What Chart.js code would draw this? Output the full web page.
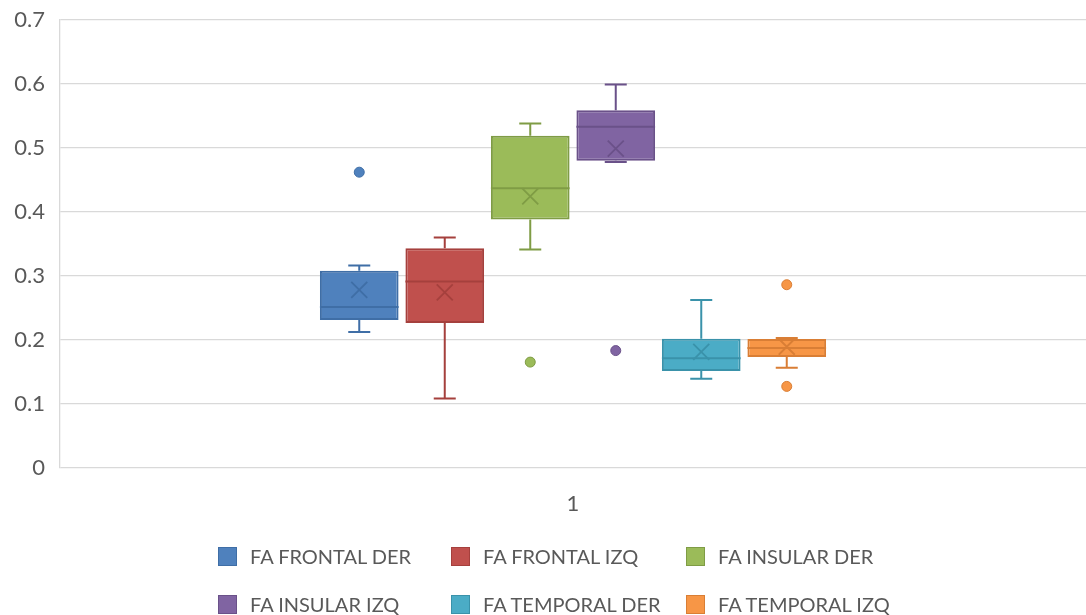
<!DOCTYPE html>
<html>
<head>
<meta charset="utf-8">
<script src="https://cdn.jsdelivr.net/npm/chart.js@4.4.1/dist/chart.umd.min.js"></script>
<style>
html,body{margin:0;padding:0;background:#fff;}
#wrap{position:relative;width:1086px;height:615px;}
#legend{position:absolute;left:218px;top:538px;display:grid;grid-template-columns:233px 235px 245px;row-gap:12px;
font-family:Lato,sans-serif;font-size:20px;color:#595959;}
.item{display:flex;align-items:center;height:36px;white-space:nowrap;}
.sw{width:19px;height:19px;margin-right:13px;box-sizing:border-box;border:1.5px solid;}
</style>
</head>
<body>
<div id="wrap">
<canvas id="chart" width="1086" height="615"></canvas>
<div id="legend"></div>
</div>
<script>
const categories = ["1"];
const seriesNames = ["FA FRONTAL DER","FA FRONTAL IZQ","FA INSULAR DER","FA INSULAR IZQ","FA TEMPORAL DER","FA TEMPORAL IZQ"];
const minValues = [0.212, 0.108, 0.341, 0.478, 0.139, 0.156];
const q1Values = [0.231, 0.226, 0.388, 0.480, 0.151, 0.173];
const medianValues = [0.251, 0.291, 0.437, 0.533, 0.171, 0.187];
const q3Values = [0.308, 0.343, 0.519, 0.559, 0.2015, 0.201];
const maxValues = [0.316, 0.360, 0.538, 0.599, 0.262, 0.2025];
const meanValues = [0.278, 0.274, 0.424, 0.499, 0.181, 0.189];
const outlierValues = [[0.462], [], [0.165], [0.183], [], [0.286, 0.127]];
const yTicks = [0, 0.1, 0.2, 0.3, 0.4, 0.5, 0.6, 0.7];

const fillColors = ["#4F81BD","#C0504D","#9BBB59","#8064A2","#4BACC6","#F79646"];
const lineColors = ["#3F6EA6","#A5403D","#7F9C45","#6A5189","#3A92AA","#D97E35"];

/* box extras: whiskers, median, mean, outliers */
const boxPlugin = {
id:"boxExtras",
afterDatasetsDraw(chart){
const ctx = chart.ctx;
const y = chart.scales.y;
chart.data.datasets.forEach((ds,i)=>{
const bar = chart.getDatasetMeta(i).data[0];
if(!bar) return;
const x = bar.x, w = bar.width;
const col = lineColors[i];
ctx.save();
ctx.strokeStyle = col;
ctx.lineWidth = 2;
const cap = 11;
const yMax = y.getPixelForValue(maxValues[i]);
const yQ3 = y.getPixelForValue(q3Values[i]);
const yQ1 = y.getPixelForValue(q1Values[i]);
const yMin = y.getPixelForValue(minValues[i]);
ctx.beginPath();
ctx.moveTo(x,yQ3);ctx.lineTo(x,yMax);
ctx.moveTo(x-cap,yMax);ctx.lineTo(x+cap,yMax);
ctx.moveTo(x,yQ1);ctx.lineTo(x,yMin);
ctx.moveTo(x-cap,yMin);ctx.lineTo(x+cap,yMin);
ctx.stroke();
/* median */
const yMed = y.getPixelForValue(medianValues[i]);
ctx.beginPath();
ctx.moveTo(x-w/2,yMed);ctx.lineTo(x+w/2,yMed);
ctx.stroke();
/* mean X */
const yMean = y.getPixelForValue(meanValues[i]);
const s = 8;
ctx.lineWidth = 1.8;
ctx.beginPath();
ctx.moveTo(x-s,yMean-s);ctx.lineTo(x+s,yMean+s);
ctx.moveTo(x+s,yMean-s);ctx.lineTo(x-s,yMean+s);
ctx.stroke();
/* outliers */
outlierValues[i].forEach(v=>{
ctx.beginPath();
ctx.arc(x,y.getPixelForValue(v),5,0,Math.PI*2);
ctx.fillStyle = fillColors[i];
ctx.fill();
ctx.lineWidth = 1;
ctx.stroke();
});
ctx.restore();
});
}
};

const datasets = seriesNames.map((name,i)=>({
label:name,
data:[[q1Values[i],q3Values[i]]],
backgroundColor:fillColors[i],
borderColor:lineColors[i],
borderWidth:2,
borderSkipped:false,
categoryPercentage:0.5,
barPercentage:0.92
}));

new Chart(document.getElementById("chart"),{
type:"bar",
data:{labels:categories,datasets:datasets},
plugins:[boxPlugin],
options:{
responsive:false,
animation:false,
layout:{padding:{top:20,right:0,bottom:83,left:0}},
plugins:{legend:{display:false},tooltip:{enabled:false}},
scales:{
x:{
grid:{display:false},
border:{display:false},
ticks:{color:"#595959",padding:15,font:{family:"Lato",size:22}}
},
y:{
min:0,max:0.7,
afterBuildTicks:(sc)=>{sc.ticks = yTicks.map(v=>({value:v}));},
afterFit:(sc)=>{sc.width = 60;sc.paddingTop = 0;sc.paddingBottom = 0;},
grid:{color:"#d9d9d9",lineWidth:1.3,drawTicks:false},
border:{display:true,color:"#d9d9d9",width:1.3},
ticks:{color:"#595959",padding:15,font:{family:"Lato",size:22},callback:(v)=>String(v)}
}
}
}
});

/* legend */
const legend = document.getElementById("legend");
seriesNames.forEach((name,i)=>{
legend.innerHTML += `<div class="item"><span class="sw" style="background:${fillColors[i]};border-color:${lineColors[i]}"></span>${name}</div>`;
});
</script>
</body>
</html>
